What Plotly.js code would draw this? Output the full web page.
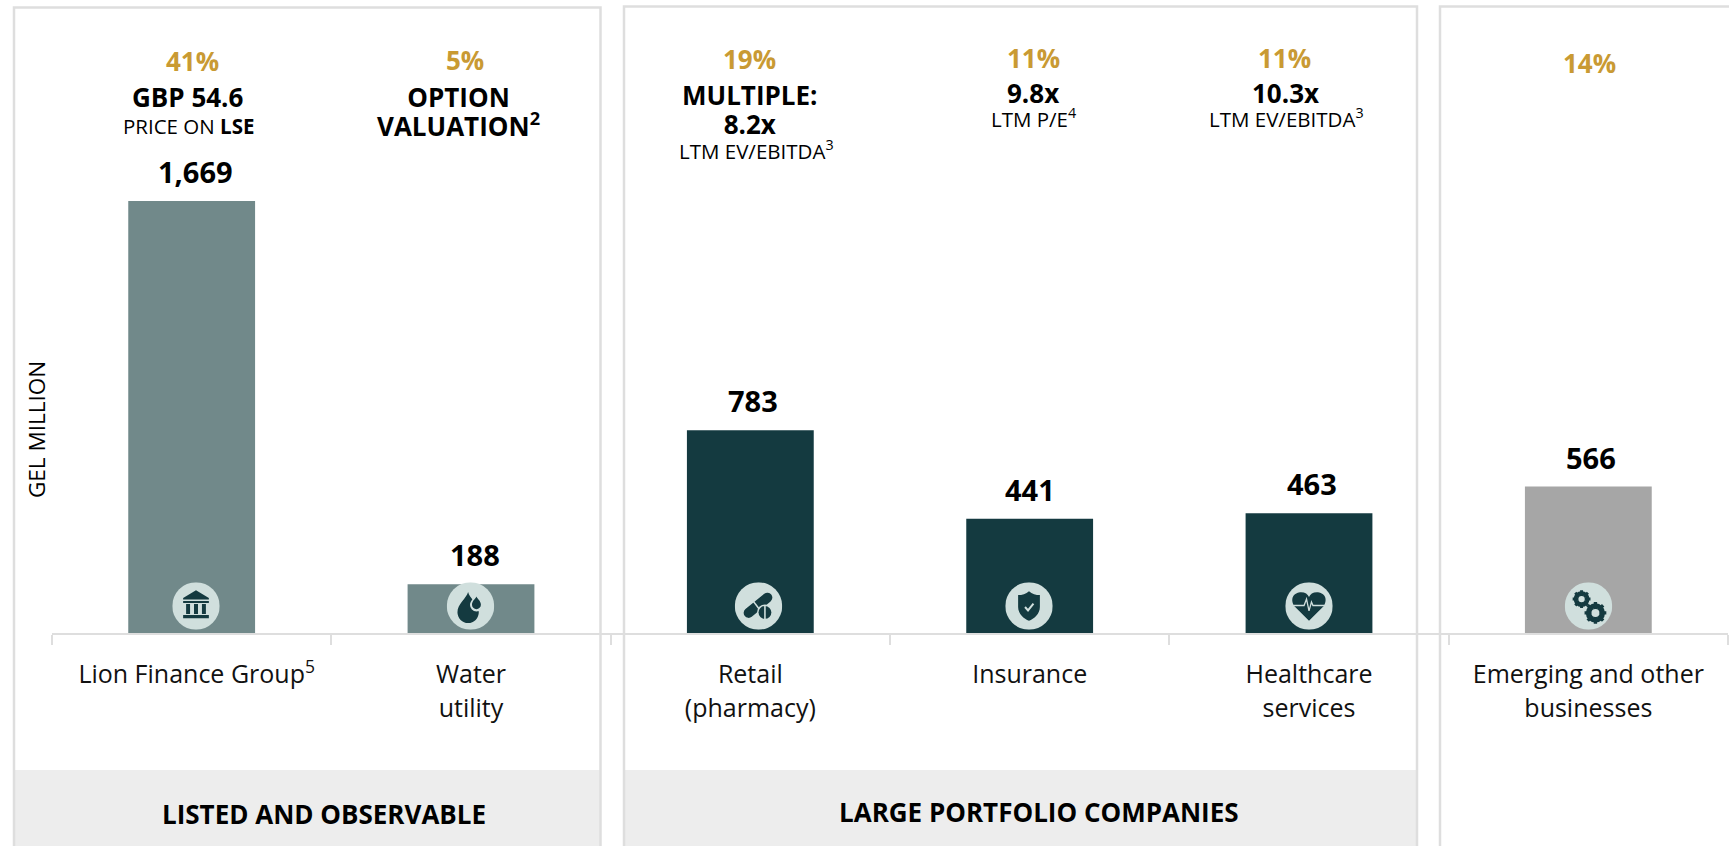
<!DOCTYPE html>
<html><head><meta charset="utf-8">
<script src="https://cdn.plot.ly/plotly-3.0.1.min.js"></script>
<style>html,body{margin:0;padding:0;background:#fff;overflow:hidden}#chart{width:1729px;height:846px}</style>
</head><body><div id="chart"></div>
<script>
// ---- data ----
const categories = ['Lion Finance Group<sup>5</sup>', 'Water<br>utility', 'Retail<br>(pharmacy)', 'Insurance', 'Healthcare<br>services', 'Emerging and other<br>businesses'];
const values = [1669, 188, 783, 441, 463, 566];
const valueLabels = ['1,669', '188', '783', '441', '463', '566'];
const sharePct = ['41%', '5%', '19%', '11%', '11%', '14%'];
const groups = ['LISTED AND OBSERVABLE', 'LARGE PORTFOLIO COMPANIES'];
const barColors = ['#71898A', '#71898A', '#143A40', '#143A40', '#143A40', '#A6A6A6'];

// ---- page geometry helpers ----
const W = 1729, H = 846, L = 52, R = 1, AXIS_Y = 633;
const plotW = W - L - R;
const px = x => (x - L) / plotW;
const py = y => 1 - y / AXIS_Y;
const LINE = '#DEDEDE', DARK = '#143A40', GOLD = '#C99A33', FONT = '"Open Sans", sans-serif';

function txt(text, x, y, size, opts) {
  return Object.assign({ text: text, xref: 'paper', yref: 'paper', x: px(x), y: py(y), xanchor: 'center', yanchor: 'middle', showarrow: false, align: 'center', font: { family: FONT, size: size, color: '#000' } }, opts || {});
}
const bold = (t) => '<b>' + t + '</b>';
const gold = { font: { family: FONT, size: 26, color: GOLD } };

const annotations = [
  txt(bold(sharePct[0]), 192.5, 61, 26, gold),
  txt(bold(sharePct[1]), 465, 60, 26, gold),
  txt(bold(sharePct[2]), 749, 59, 26, gold),
  txt(bold(sharePct[3]), 1033, 58, 26, gold),
  txt(bold(sharePct[4]), 1284, 58, 26, gold),
  txt(bold(sharePct[5]), 1589, 62.5, 26, gold),
  txt(bold('GBP 54.6'), 188, 97, 26),
  txt('PRICE ON ' + bold('LSE'), 188, 126, 20.5),
  txt(bold('OPTION<br>VALUATION<sup>2</sup>'), 458, 114, 26),
  txt(bold('MULTIPLE:<br>8.2x'), 750, 112, 26),
  txt('LTM EV/EBITDA<sup>3</sup>', 756, 150, 20.5),
  txt(bold('9.8x'), 1033, 93, 26),
  txt('LTM P/E<sup>4</sup>', 1033, 118, 20.5),
  txt(bold('10.3x'), 1285, 93, 26),
  txt('LTM EV/EBITDA<sup>3</sup>', 1286, 118, 20.5),
  txt('GEL MILLION', 37, 430, 22.5, { textangle: -90 }),
  txt(bold(groups[0]), 324, 814, 26),
  txt(bold(groups[1]), 1039, 812, 26)
];

// value labels tied to the bars through the axes
const labelShift = [4, 4, 3, 0, 3, 3];
categories.forEach((c, i) => annotations.push({
  text: bold(valueLabels[i]), xref: 'x', yref: 'y', x: c, y: values[i], xanchor: 'center', yanchor: 'bottom', yshift: 8, xshift: labelShift[i], showarrow: false,
  font: { family: FONT, size: 29, color: '#000' }
}));

const band = (x0, x1) => ({ type: 'rect', layer: 'below', xref: 'paper', yref: 'paper', x0: px(x0), x1: px(x1), y0: py(770), y1: py(860), fillcolor: '#EDEDED', line: { width: 0 } });
const panel = (x0, x1, top) => ({ type: 'rect', layer: 'below', xref: 'paper', yref: 'paper', x0: px(x0), x1: px(x1), y0: py(870), y1: py(top), fillcolor: 'rgba(0,0,0,0)', line: { color: LINE, width: 2.5 } });

const shapes = [band(14, 600), band(624, 1417), panel(14, 600.5, 7.5), panel(624, 1417, 6.5), panel(1440, 1790, 6.5)];

// icons (glyphs on pale disks)
const glyph = {
  bank: '<path d="M24 8 L37 16 L37 17.5 L11 17.5 L11 16 Z M11 19 H37 V21 H11 Z M14 22 H18 V32 H14 Z M22 22 H26 V32 H22 Z M30 22 H34 V32 H30 Z M11 33 H37 V36.5 H11 Z" fill="#143A40"/>',
  drop: '<path d="M20 8 C21 14 31 20 31 29 A11 11 0 0 1 9 29 C9 20 18 15 20 8 Z" transform="translate(2,2) scale(.98)" fill="#143A40"/><path d="M30 11 C31 15 36.5 18 36.5 23 A6.5 6.5 0 0 1 23.5 23 C23.5 18 29 15 30 11 Z" fill="#D0DFDD"/><path d="M30 14.5 C31 17 34.5 19 34.5 22.7 A4.5 4.5 0 0 1 25.5 22.7 C25.5 19 29 17 30 14.5 Z" fill="#143A40"/>',
  pill: '<path d="M14 31 L33 15.5" stroke="#143A40" stroke-width="10" stroke-linecap="round"/><path d="M17 17 L27 30" stroke="#D0DFDD" stroke-width="1.5"/><circle cx="30.5" cy="30.5" r="8" fill="#D0DFDD"/><circle cx="30.5" cy="30.5" r="6.5" fill="#143A40"/><path d="M30.5 23 V38" stroke="#D0DFDD" stroke-width="1.6"/>',
  shield: '<path d="M24 9 C27 12 31 13 35 13 V25 C35 32 29 37 24 39 C19 37 13 32 13 25 V13 C17 13 21 12 24 9 Z" fill="#143A40"/><path d="M20 25 L23 28.5 L28.5 21.5" fill="none" stroke="#D0DFDD" stroke-width="2"/>',
  heart: '<path d="M24 39 L9 24 C4 15 10 10 16 10 C20 10 23 12 24 15 C25 12 28 10 32 10 C38 10 44 15 39 24 Z" fill="#143A40"/><path d="M7 23.5 H19 L21.5 17 L24 29 L26.5 20 L28 23.5 H41" fill="none" stroke="#D0DFDD" stroke-width="1.3"/>',
  gears: '<circle cx="17" cy="17" r="6" fill="none" stroke="#143A40" stroke-width="4"/><path d="M17 8 V26 M8 17 H26 M10.6 10.6 L23.4 23.4 M23.4 10.6 L10.6 23.4" stroke="#143A40" stroke-width="3"/><circle cx="17" cy="17" r="3.2" fill="#D0DFDD"/><circle cx="31" cy="31" r="7.2" fill="none" stroke="#143A40" stroke-width="5"/><path d="M31 20 V42 M20 31 H42 M23.2 23.2 L38.8 38.8 M38.8 23.2 L23.2 38.8" stroke="#143A40" stroke-width="3.4"/><circle cx="31" cy="31" r="4" fill="#D0DFDD"/>'
};
const iconList = [['bank', 196], ['drop', 470.5], ['pill', 758.5], ['shield', 1029], ['heart', 1309], ['gears', 1588.5]];
const images = iconList.map(([k, x]) => ({
  source: 'data:image/svg+xml;utf8,' + encodeURIComponent('<svg xmlns="http://www.w3.org/2000/svg" viewBox="0 0 48 48" width="48" height="48"><circle cx="24" cy="24" r="24" fill="#D0DFDD"/>' + glyph[k] + '</svg>'),
  xref: 'paper', yref: 'paper', x: px(x), y: py(606), sizex: 47.5 / plotW, sizey: 47.5 / AXIS_Y, xanchor: 'center', yanchor: 'middle', sizing: 'stretch', layer: 'above'
}));

const trace = { type: 'bar', x: categories, y: values, width: 0.454, marker: { color: barColors, line: { width: 0 } }, hoverinfo: 'x+y', cliponaxis: false };

const layout = {
  width: W, height: H, autosize: false, showlegend: false,
  paper_bgcolor: '#fff', plot_bgcolor: 'rgba(0,0,0,0)',
  margin: { l: L, r: R, t: 0, b: H - AXIS_Y, pad: 0 },
  xaxis: {
    type: 'category', categoryorder: 'array', categoryarray: categories, range: [-0.5, 5.5], fixedrange: true,
    ticks: 'outside', tickson: 'boundaries', ticklen: 10, tickwidth: 2, tickcolor: LINE,
    showline: true, linecolor: LINE, linewidth: 2, showgrid: false, zeroline: false,
    tickangle: 0, tickfont: { family: FONT, size: 25, color: '#111' }, automargin: false, ticklabelstandoff: 18
  },
  yaxis: { range: [0, AXIS_Y / (432 / 1669)], visible: false, fixedrange: true },
  annotations: annotations, shapes: shapes, images: images
};

// reference line pitch differs from the library's default 1.3em
function setLinePitch(selector, pitch) {
  document.querySelectorAll(selector).forEach(t => {
    t.querySelectorAll('tspan.line').forEach(l => {
      const n = parseFloat(l.getAttribute('dy')) / 1.3;
      if (n > 0) l.setAttribute('dy', (n * pitch) + 'em');
    });
  });
}
Plotly.newPlot('chart', [trace], layout, { displayModeBar: false, staticPlot: true }).then(() => {
  setLinePitch('.xtick text', 1.36);
  setLinePitch('.annotation-text', 1.13);
  // the first category label sits slightly right of its band in the reference
  const first = document.querySelector('.xtick text');
  if (first) first.setAttribute('x', parseFloat(first.getAttribute('x')) + 5);
});
</script></body></html>
